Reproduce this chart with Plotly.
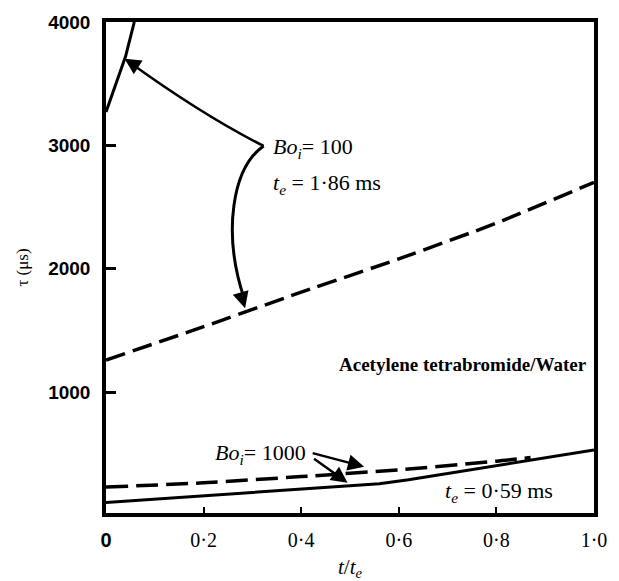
import plotly.graph_objects as go

# Dimensionless time t/t_e
t_bo100_solid = [0.0, 0.02, 0.04, 0.058]
tau_bo100_solid = [3270, 3490, 3720, 4000]

t_bo100_dash = [0.0, 0.2, 0.4, 0.6, 0.8, 1.0]
tau_bo100_dash = [1260, 1530, 1810, 2080, 2370, 2700]

t_bo1000_dash = [0.0, 0.2, 0.4, 0.6, 0.8, 0.87]
tau_bo1000_dash = [230, 265, 315, 370, 440, 470]

t_bo1000_solid = [0.0, 0.2, 0.4, 0.56, 0.62, 0.8, 1.0]
tau_bo1000_solid = [105, 158, 212, 258, 290, 405, 530]

x_tickvals = [0, 0.2, 0.4, 0.6, 0.8, 1.0]
x_ticktext = ["<span style='font-family:Liberation Sans;font-weight:bold'>0</span>",
              "0·2", "0·4", "0·6", "0·8", "1·0"]
y_tickvals = [1000, 2000, 3000, 4000]
y_ticktext = ["1000", "2000", "3000", "4000"]

SERIF = "Liberation Serif, Times New Roman, serif"
SANS = "Liberation Sans, Arial, sans-serif"
INK = "black"

fig = go.Figure()

fig.add_trace(go.Scatter(x=t_bo100_solid, y=tau_bo100_solid, mode="lines",
                         line=dict(color=INK, width=3), cliponaxis=True))
fig.add_trace(go.Scatter(x=t_bo100_dash, y=tau_bo100_dash, mode="lines",
                         line=dict(color=INK, width=3.5, dash="20px,8px", shape="spline", smoothing=0.6)))
fig.add_trace(go.Scatter(x=t_bo1000_dash, y=tau_bo1000_dash, mode="lines",
                         line=dict(color=INK, width=3.5, dash="22px,8px", shape="spline", smoothing=0.6)))
fig.add_trace(go.Scatter(x=t_bo1000_solid, y=tau_bo1000_solid, mode="lines",
                         line=dict(color=INK, width=3)))

# Curved leader lines for the Bo_i = 100 label
fig.add_shape(type="path", xref="x", yref="y",
              path="M 0.323,2995 Q 0.198,3245 0.046,3680",
              line=dict(color=INK, width=2.5))
fig.add_shape(type="path", xref="x", yref="y",
              path="M 0.323,2995 C 0.259,2818 0.238,2295 0.283,1760",
              line=dict(color=INK, width=3))

arrow_style = dict(showarrow=True, arrowhead=2, arrowsize=1.3, arrowwidth=2.5,
                   arrowcolor=INK, text="", xref="x", yref="y")
fig.add_annotation(x=0.038, y=3703, ax=14, ay=9, **arrow_style)
fig.add_annotation(x=0.285, y=1680, ax=-4, ay=-14, **arrow_style)
# Straight leaders for Bo_i = 1000
fig.add_annotation(x=0.529, y=395, ax=-53, ay=-14, **arrow_style)
fig.add_annotation(x=0.495, y=265, ax=-35, ay=-25, **arrow_style)

label_font = dict(family=SERIF, size=22, color=INK)
fig.add_annotation(x=0.339, y=2979, xref="x", yref="y", showarrow=False,
                   xanchor="left", yanchor="middle",
                   text="<i>Bo<sub>i</sub></i>= 100", font=label_font)
fig.add_annotation(x=0.339, y=2689, xref="x", yref="y", showarrow=False,
                   xanchor="left", yanchor="middle",
                   text="<i>t<sub>e</sub></i> = 1·86 ms", font=label_font)
fig.add_annotation(x=0.414, y=500, xref="x", yref="y", showarrow=False,
                   xanchor="right", yanchor="middle",
                   text="<i>Bo<sub>i</sub></i>= 1000", font=label_font)
fig.add_annotation(x=0.921, y=187, xref="x", yref="y", showarrow=False,
                   xanchor="right", yanchor="middle",
                   text="<i>t<sub>e</sub></i> = 0·59 ms", font=label_font)
fig.add_annotation(x=0.99, y=1225, xref="x", yref="y", showarrow=False,
                   xanchor="right", yanchor="middle",
                   text="<b>Acetylene tetrabromide/Water</b>",
                   font=dict(family=SERIF, size=19, color=INK))

# Axis titles
fig.add_annotation(x=0.5, y=-0.113, xref="paper", yref="paper", showarrow=False,
                   xanchor="center", yanchor="middle",
                   text="<i>t</i>/<i>t<sub>e</sub></i>",
                   font=dict(family=SERIF, size=21, color=INK))
fig.add_annotation(x=-0.172, y=0.5, xref="paper", yref="paper", showarrow=False,
                   xanchor="center", yanchor="middle", textangle=-90,
                   text="τ (μs)", font=dict(family=SERIF, size=17, color=INK))

fig.update_layout(
    width=619, height=581,
    margin=dict(l=106, r=14, t=18, b=68),
    paper_bgcolor="white", plot_bgcolor="white",
    showlegend=False,
)
fig.update_xaxes(range=[0, 1], showgrid=False, zeroline=False,
                 showline=True, linewidth=3.5, linecolor=INK, mirror=True,
                 ticks="inside", ticklen=6, tickwidth=2, tickcolor=INK,
                 tickvals=x_tickvals, ticktext=x_ticktext,
                 tickfont=dict(family=SERIF, size=20, color=INK),
                 ticklabelstandoff=6)
fig.update_yaxes(range=[20, 4000], showgrid=False, zeroline=False,
                 showline=True, linewidth=3.5, linecolor=INK, mirror=True,
                 ticks="inside", ticklen=10, tickwidth=3, tickcolor=INK,
                 tickvals=y_tickvals, ticktext=y_ticktext,
                 tickfont=dict(family=SANS, size=19, color=INK, weight="bold"),
                 ticklabelstandoff=8)

fig.write_html("out.html")
